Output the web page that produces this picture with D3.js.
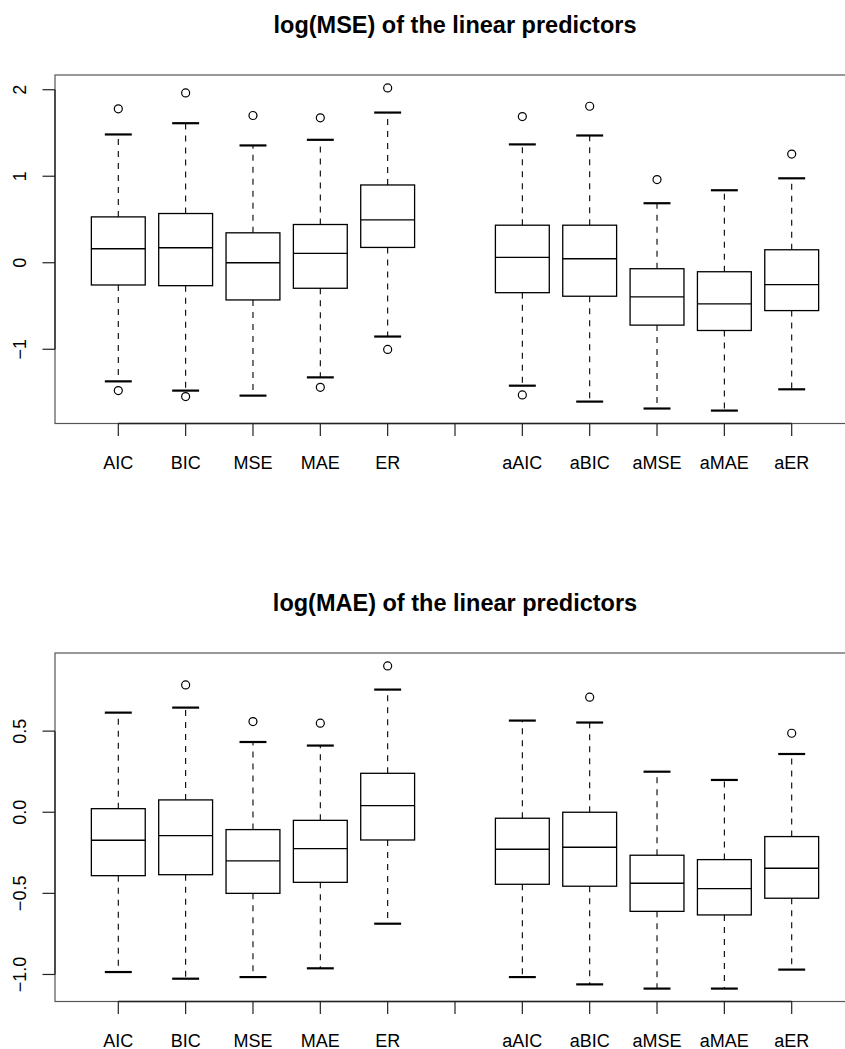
<!DOCTYPE html>
<html>
<head>
<meta charset="utf-8">
<script src="https://cdn.jsdelivr.net/npm/d3@7"></script>
<style>
  html, body { margin: 0; padding: 0; background: #fff; }
  svg { display: block; }
  text { font-family: "Liberation Sans", Arial, Helvetica, sans-serif; fill: #000; }
</style>
</head>
<body>
<svg id="chart" width="845" height="1049"></svg>
<script>
// Group labels; slot 6 is an empty spacer between the plain and adaptive criteria
const categories = ["AIC", "BIC", "MSE", "MAE", "ER", "", "aAIC", "aBIC", "aMSE", "aMAE", "aER"];

// Panel 1: log(MSE) — five-number summaries and outliers
const mseLower  = [-1.371, -1.478, -1.536, -1.325, -0.853, null, -1.421, -1.605, -1.685, -1.709, -1.463];
const mseQ1     = [-0.257, -0.265, -0.430, -0.295,  0.177, null, -0.346, -0.387, -0.721, -0.783, -0.553];
const mseMedian = [ 0.162,  0.173,  0.000,  0.108,  0.495, null,  0.062,  0.046, -0.395, -0.476, -0.253];
const mseQ3     = [ 0.530,  0.569,  0.346,  0.442,  0.899, null,  0.434,  0.434, -0.069, -0.104,  0.150];
const mseUpper  = [ 1.483,  1.613,  1.356,  1.421,  1.736, null,  1.368,  1.471,  0.688,  0.838,  0.976];
const mseOutliers = [[1.779, -1.478], [1.963, -1.547], [1.702], [1.675, -1.440], [2.021, -1.002], [],
                     [1.690, -1.528], [1.809], [0.961], [], [1.256]];
const mseTicks = [-1, 0, 1, 2];
const mseTickLabels = ["\u22121", "0", "1", "2"];

// Panel 2: log(MAE) — five-number summaries and outliers
const maeLower  = [-0.985, -1.026, -1.016, -0.962, -0.687, null, -1.016, -1.061, -1.087, -1.087, -0.970];
const maeQ1     = [-0.391, -0.385, -0.500, -0.432, -0.171, null, -0.444, -0.456, -0.611, -0.633, -0.530];
const maeMedian = [-0.173, -0.144, -0.300, -0.224,  0.041, null, -0.228, -0.216, -0.438, -0.471, -0.345];
const maeQ3     = [ 0.022,  0.076, -0.107, -0.050,  0.240, null, -0.037,  0.000, -0.265, -0.292, -0.150];
const maeUpper  = [ 0.614,  0.645,  0.433,  0.411,  0.756, null,  0.565,  0.553,  0.250,  0.199,  0.359];
const maeOutliers = [[], [0.785], [0.559], [0.549], [0.902], [],
                     [], [0.709], [], [], [0.487]];
const maeTicks = [-1.0, -0.5, 0.0, 0.5];
const maeTickLabels = ["\u22121.0", "\u22120.5", "0.0", "0.5"];

const titles = ["log(MSE) of the linear predictors", "log(MAE) of the linear predictors"];

const panels = [
  { title: titles[0], lower: mseLower, q1: mseQ1, median: mseMedian, q3: mseQ3, upper: mseUpper,
    outliers: mseOutliers, ticks: mseTicks, tickLabels: mseTickLabels },
  { title: titles[1], lower: maeLower, q1: maeQ1, median: maeMedian, q3: maeQ3, upper: maeUpper,
    outliers: maeOutliers, ticks: maeTicks, tickLabels: maeTickLabels }
];

const svg = d3.select("#chart");
svg.append("rect").attr("width", 845).attr("height", 1049).attr("fill", "#fff");

// Plot region geometry (the frame runs past the right edge of the page)
const plotLeft = 55, plotRight = 855, plotHeight = 348.5;
const panelTops = [75, 653];
const n = categories.length;

// x domain: slots 0.5 .. n+0.5, widened by 4% on each side
const xPad = 0.04 * n;
const x = d3.scaleLinear().domain([0.5 - xPad, n + 0.5 + xPad]).range([plotLeft, plotRight]);
const unit = x(2) - x(1);
const boxW = 0.8 * unit;
const capW = 0.5 * boxW;

const ink = "#000";
const frameInk = "#555";

panels.forEach((p, k) => {
  const top = panelTops[k], bottom = top + plotHeight;

  // y domain: data range widened by 4%
  const all = [];
  p.lower.forEach((v, i) => { if (v !== null) all.push(v, p.upper[i]); });
  p.outliers.forEach(o => all.push(...o));
  const lo = d3.min(all), hi = d3.max(all), pad = 0.04 * (hi - lo);
  const y = d3.scaleLinear().domain([lo - pad, hi + pad]).range([bottom, top]);

  const g = svg.append("g");

  // Title
  g.append("text")
    .attr("x", (plotLeft + plotRight) / 2)
    .attr("y", top - 42)
    .attr("text-anchor", "middle")
    .attr("font-weight", "bold")
    .attr("font-size", "23.5px")
    .text(p.title);

  // Frame
  g.append("rect")
    .attr("x", plotLeft).attr("y", top)
    .attr("width", plotRight - plotLeft).attr("height", plotHeight)
    .attr("fill", "none").attr("stroke", frameInk).attr("stroke-width", 1.2);

  // Boxes
  const idx = d3.range(n).filter(i => p.lower[i] !== null);
  const box = g.selectAll("g.box").data(idx).join("g").attr("class", "box");

  // dashed whiskers from box edges outwards
  box.append("line")
    .attr("x1", i => x(i + 1)).attr("x2", i => x(i + 1))
    .attr("y1", i => y(p.q3[i])).attr("y2", i => y(p.upper[i]))
    .attr("stroke", ink).attr("stroke-width", 1.1).attr("stroke-dasharray", "6,6");
  box.append("line")
    .attr("x1", i => x(i + 1)).attr("x2", i => x(i + 1))
    .attr("y1", i => y(p.q1[i])).attr("y2", i => y(p.lower[i]))
    .attr("stroke", ink).attr("stroke-width", 1.1).attr("stroke-dasharray", "6,6");

  // staples
  ["upper", "lower"].forEach(key => {
    box.append("line")
      .attr("x1", i => x(i + 1) - capW / 2).attr("x2", i => x(i + 1) + capW / 2)
      .attr("y1", i => y(p[key][i])).attr("y2", i => y(p[key][i]))
      .attr("stroke", ink).attr("stroke-width", 2.2);
  });

  // box body
  box.append("rect")
    .attr("x", i => x(i + 1) - boxW / 2).attr("width", boxW)
    .attr("y", i => y(p.q3[i])).attr("height", i => y(p.q1[i]) - y(p.q3[i]))
    .attr("fill", "#fff").attr("stroke", ink).attr("stroke-width", 1.3);

  // median
  box.append("line")
    .attr("x1", i => x(i + 1) - boxW / 2).attr("x2", i => x(i + 1) + boxW / 2)
    .attr("y1", i => y(p.median[i])).attr("y2", i => y(p.median[i]))
    .attr("stroke", ink).attr("stroke-width", 1.4);

  // outliers
  const outPts = [];
  p.outliers.forEach((o, i) => o.forEach(v => outPts.push({ i, v })));
  g.selectAll("circle.out").data(outPts).join("circle").attr("class", "out")
    .attr("cx", d => x(d.i + 1)).attr("cy", d => y(d.v)).attr("r", 4)
    .attr("fill", "none").attr("stroke", ink).attr("stroke-width", 1.2);

  // y axis (rotated tick labels, as in base graphics)
  const yAxis = g.append("g");
  yAxis.append("line")
    .attr("x1", plotLeft).attr("x2", plotLeft)
    .attr("y1", y(d3.min(p.ticks))).attr("y2", y(d3.max(p.ticks)))
    .attr("stroke", "#222").attr("stroke-width", 1.3);
  p.ticks.forEach((t, j) => {
    yAxis.append("line")
      .attr("x1", plotLeft).attr("x2", plotLeft - 12.5)
      .attr("y1", y(t)).attr("y2", y(t))
      .attr("stroke", "#222").attr("stroke-width", 1.2);
    yAxis.append("text")
      .attr("transform", `translate(25.5,${y(t)}) rotate(-90)`)
      .attr("text-anchor", "middle")
      .attr("font-size", "18px")
      .text(p.tickLabels[j]);
  });

  // x axis
  const xAxis = g.append("g");
  xAxis.append("line")
    .attr("x1", x(1)).attr("x2", x(n))
    .attr("y1", bottom).attr("y2", bottom)
    .attr("stroke", "#222").attr("stroke-width", 1.3);
  categories.forEach((c, i) => {
    xAxis.append("line")
      .attr("x1", x(i + 1)).attr("x2", x(i + 1))
      .attr("y1", bottom).attr("y2", bottom + 12.5)
      .attr("stroke", "#222").attr("stroke-width", 1.2);
    if (c) {
      xAxis.append("text")
        .attr("x", x(i + 1)).attr("y", bottom + 45)
        .attr("text-anchor", "middle")
        .attr("font-size", "18px")
        .text(c);
    }
  });
});
</script>
</body>
</html>
